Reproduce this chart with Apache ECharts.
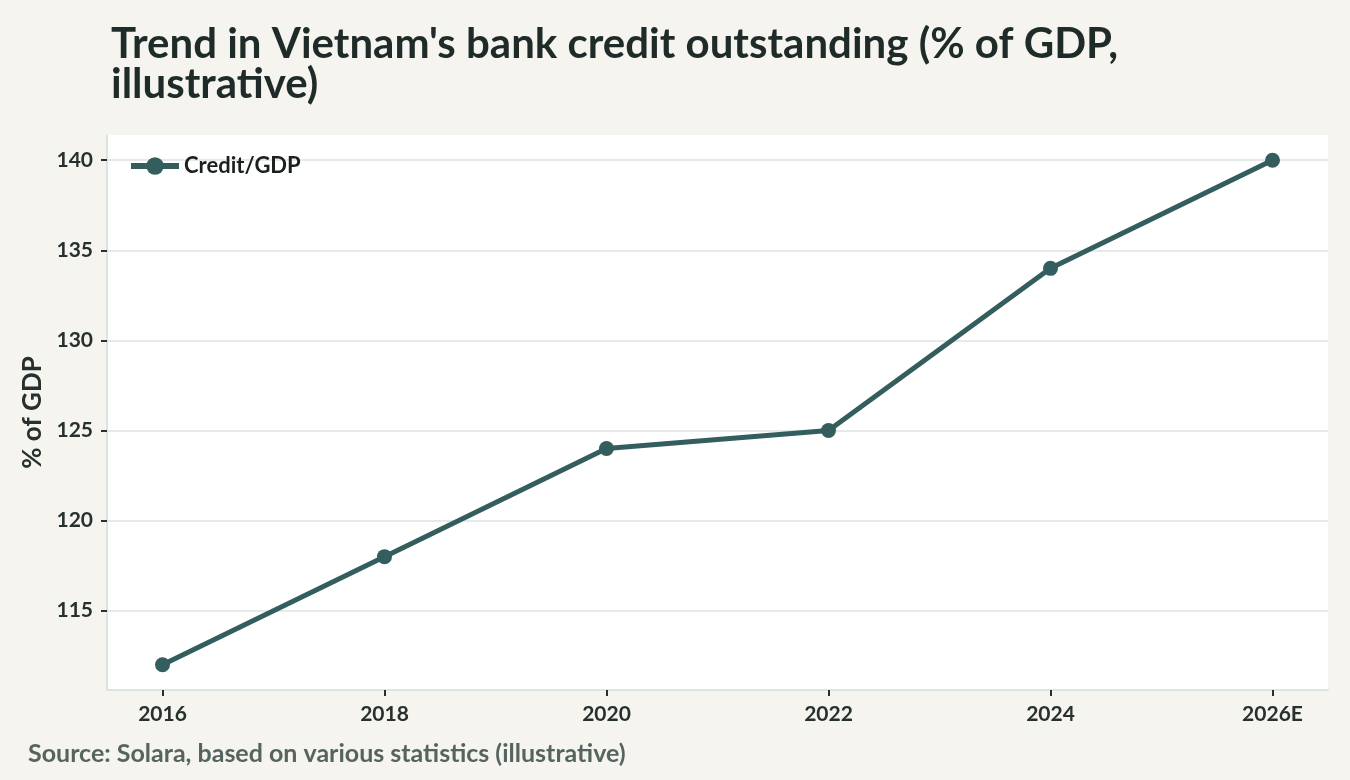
<!DOCTYPE html>
<html>
<head>
<meta charset="utf-8">
<script src="https://cdn.jsdelivr.net/npm/echarts@6/dist/echarts.min.js"></script>
<style>
  html, body { margin: 0; padding: 0; background: #f5f4ef; }
  #chart { width: 1350px; height: 780px; }
</style>
</head>
<body>
<div id="chart"></div>
<script>
var years = ['2016', '2018', '2020', '2022', '2024', '2026E'];
var creditToGdp = [112, 118, 124, 125, 134, 140];
var yTicks = [115, 120, 125, 130, 135, 140];

var FONT = 'Lato, "Noto Sans", sans-serif';
var INK = '#26302e';
var LINE = '#335e5d';

var myChart = echarts.init(document.getElementById('chart'));
var option;

option = {
    backgroundColor: '#f5f4ef',
    textStyle: { fontFamily: FONT },
    title: {
        text: "Trend in Vietnam's bank credit outstanding (% of GDP,\nillustrative)",
        left: 106,
        top: 19,
        textStyle: {
            fontFamily: FONT,
            fontSize: 42,
            fontWeight: 'bold',
            color: '#1f2b29',
            lineHeight: 40
        }
    },
    graphic: [
        {
            type: 'text',
            left: 28,
            top: 741,
            style: {
                text: 'Source: Solara, based on various statistics (illustrative)',
                fontFamily: FONT,
                fontSize: 25,
                fontWeight: 'bold',
                fill: '#56645f'
            }
        }
    ],
    legend: {
        data: ['Credit/GDP'],
        left: 123,
        top: 150,
        itemWidth: 48,
        itemHeight: 22,
        itemGap: 12,
        lineStyle: { width: 6 },
        textStyle: {
            fontFamily: FONT,
            fontSize: 22,
            fontWeight: 'bold',
            color: '#1a201f'
        }
    },
    grid: {
        left: 107,
        right: 22,
        top: 135,
        bottom: 90,
        show: true,
        backgroundColor: '#ffffff',
        borderWidth: 0
    },
    xAxis: {
        type: 'value',
        min: -0.25,
        max: 5.25,
        axisLine: { show: true, onZero: false, lineStyle: { color: '#dde3e1', width: 2 } },
        axisTick: {
            show: true,
            length: 6,
            lineStyle: { color: INK, width: 2 },
            customValues: [0, 1, 2, 3, 4, 5]
        },
        splitLine: { show: false },
        axisLabel: {
            customValues: [0, 1, 2, 3, 4, 5],
            formatter: function (v) { return years[v]; },
            margin: 14,
            fontFamily: FONT,
            fontSize: 21,
            fontWeight: 'bold',
            color: INK
        }
    },
    yAxis: {
        type: 'value',
        min: 110.6,
        max: 141.4,
        name: '% of GDP',
        nameLocation: 'middle',
        nameGap: 60,
        nameRotate: 90,
        nameTextStyle: {
            fontFamily: FONT,
            fontSize: 26,
            fontWeight: 'bold',
            color: INK
        },
        axisLine: { show: true, onZero: false, lineStyle: { color: '#dde3e1', width: 2 } },
        axisTick: {
            show: true,
            length: 6,
            lineStyle: { color: INK, width: 2 },
            customValues: yTicks
        },
        splitLine: { show: true, lineStyle: { color: '#dde3e1', width: 1.5 } },
        axisLabel: {
            customValues: yTicks,
            margin: 14,
            fontFamily: FONT,
            fontSize: 21,
            fontWeight: 'bold',
            color: INK
        }
    },
    series: [
        {
            name: 'Credit/GDP',
            type: 'line',
            data: creditToGdp.map(function (v, i) { return [i, v]; }),
            symbol: 'circle',
            symbolSize: 15,
            lineStyle: { color: LINE, width: 5 },
            itemStyle: { color: LINE },
            emphasis: { disabled: true }
        }
    ]
};
option && myChart.setOption(option);
</script>
</body>
</html>
